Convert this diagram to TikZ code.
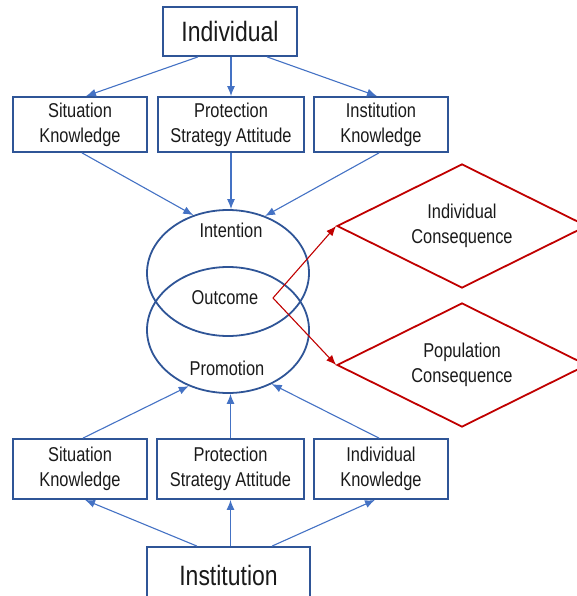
\documentclass[tikz,border=0pt]{standalone}
\usepackage{fontspec}
\setmainfont{Liberation Sans}[FakeStretch=0.82]
\usetikzlibrary{arrows.meta,shapes.geometric}
\definecolor{boxblue}{HTML}{2F5597}
\definecolor{linkblue}{HTML}{4472C4}
\definecolor{conred}{HTML}{C00000}
\definecolor{ink}{HTML}{1A1A1A}

\begin{document}
\begin{tikzpicture}[x=1pt,y=-1pt,
  small/.style={font=\fontsize{20}{25}\selectfont},
  big/.style={font=\fontsize{28}{32}\selectfont},
  factor/.style={draw=boxblue, line width=1.8pt, rectangle, inner sep=0pt,
                 align=center, text=ink, small},
  actor/.style={factor, big},
  stage/.style={draw=boxblue, line width=1.8pt, ellipse, inner sep=0pt,
                minimum width=162pt, minimum height=126pt},
  label/.style={text=ink, small, inner sep=0pt, align=center},
  result/.style={draw=conred, line width=1.8pt, diamond, aspect=2.5, inner sep=0pt,
                 minimum width=250pt, minimum height=124pt,
                 align=center, text=ink, small},
  link/.style={draw=linkblue, line width=1.1pt, -{Latex[length=10pt,width=8pt]}},
  effect/.style={draw=conred, line width=1.1pt, -{Latex[length=10pt,width=8pt]}}
]
\useasboundingbox (0,0) rectangle (577,596);

% actors
\node[actor, minimum width=134pt, minimum height=49pt] (ind) at (230,31.5) {Individual};
\node[actor, minimum width=163pt, minimum height=56pt] (inst) at (228.5,575) {Institution};

% factors of the individual
\node[factor, minimum width=134pt, minimum height=55pt] (s1) at (80,124.5) {Situation\\Knowledge};
\node[factor, minimum width=146pt, minimum height=55pt] (p1) at (231,124.5) {Protection\\Strategy Attitude};
\node[factor, minimum width=134pt, minimum height=55pt] (k1) at (381,124.5) {Institution\\Knowledge};

% factors of the institution
\node[factor, minimum width=134pt, minimum height=60pt] (s2) at (80,469) {Situation\\Knowledge};
\node[factor, minimum width=147pt, minimum height=60pt] (p2) at (230.5,469) {Protection\\Strategy Attitude};
\node[factor, minimum width=134pt, minimum height=60pt] (k2) at (381,469) {Individual\\Knowledge};

% intention / promotion overlap
\node[stage] (up) at (228,273) {};
\node[stage] (low) at (228,330) {};
\node[label] (intention) at (231,230) {Intention};
\node[label] (outcome) at (225,298) {Outcome};
\node[label] (promotion) at (227,368) {Promotion};

% consequences
\node[result] (c1) at (462,226) {Individual\\Consequence};
\node[result] (c2) at (462,365) {Population\\Consequence};
\coordinate (fork) at (273,298);

% individual -> factors
\draw[link] ([xshift=-32pt]ind.south) -- ([xshift=6pt]s1.north);
\draw[link] (p1.north |- ind.south) -- (p1.north);
\draw[link] ([xshift=37pt]ind.south) -- ([xshift=-4pt]k1.north);

% factors -> intention
\draw[link] ([xshift=2pt]s1.south) -- (up.121);
\draw[link] (p1.south) -- (p1.south |- up.north);
\draw[link] ([xshift=-2pt]k1.south) -- (up.57);

% institution -> factors
\draw[link] ([xshift=-31.5pt]inst.north) -- ([xshift=5pt]s2.south);
\draw[link] (p2.south |- inst.north) -- (p2.south);
\draw[link] ([xshift=43.5pt]inst.north) -- ([xshift=-6pt]k2.south);

% factors -> promotion
\draw[link] ([xshift=3pt]s2.north) -- (low.-125);
\draw[link] (p2.north) -- (p2.north |- low.south);
\draw[link] ([xshift=-2pt]k2.north) -- (low.-51);

% outcome -> consequences
\draw[effect] (fork) -- (c1.west);
\draw[effect] (fork) -- (c2.west);
\end{tikzpicture}
\end{document}
